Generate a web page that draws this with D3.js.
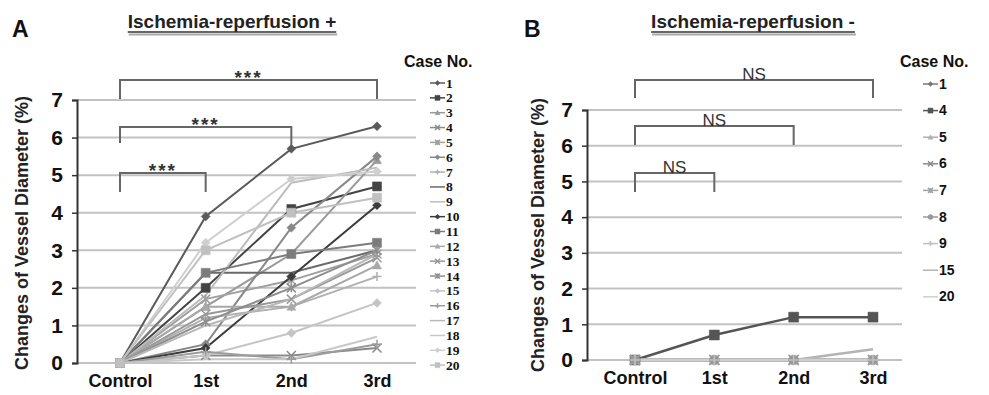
<!DOCTYPE html>
<html>
<head>
<meta charset="utf-8">
<script src="https://cdn.jsdelivr.net/npm/d3@7"></script>
<style>
  body { margin: 0; background: #fff; }
  svg { display: block; font-family: Arial, "Liberation Sans", sans-serif; }
</style>
</head>
<body>
<svg id="chart" width="989" height="395"></svg>
<script>
// Time points on the x axis
const timePoints = ["Control", "1st", "2nd", "3rd"];
const yTicks = [0, 1, 2, 3, 4, 5, 6, 7];

// Panel A: ischemia-reperfusion +, 20 cases
const casesA = ["1","2","3","4","5","6","7","8","9","10","11","12","13","14","15","16","17","18","19","20"];
const valuesA = [
  [0, 3.9, 5.7, 6.3],
  [0, 2.0, 4.1, 4.7],
  [0, 1.5, 2.9, 5.4],
  [0, 0.2, 0.2, 0.4],
  [0, 1.7, 2.2, 2.9],
  [0, 0.5, 3.6, 5.5],
  [0, 1.2, 1.5, 2.3],
  [0, 2.4, 2.4, 3.0],
  [0, 1.8, 4.8, 5.2],
  [0, 0.4, 2.3, 4.2],
  [0, 2.4, 2.9, 3.2],
  [0, 1.5, 1.5, 2.6],
  [0, 1.3, 1.7, 2.8],
  [0, 1.1, 2.0, 3.0],
  [0, 0.2, 0.8, 1.6],
  [0, 0.3, 0.1, 0.5],
  [0, 1.0, 1.7, 2.9],
  [0, 0.1, 0.1, 0.7],
  [0, 3.2, 4.9, 5.1],
  [0, 3.0, 4.0, 4.4]
];

// Panel B: ischemia-reperfusion -, 9 cases
const casesB = ["1","4","5","6","7","8","9","15","20"];
const valuesB = [
  [0, 0, 0, 0],
  [0, 0.7, 1.2, 1.2],
  [0, 0, 0, 0],
  [0, 0, 0, 0],
  [0, 0, 0, 0],
  [0, 0, 0, 0],
  [0, 0, 0, 0],
  [0, 0, 0, 0.3],
  [0, 0, 0, 0]
];

// Significance brackets: [from, to, label]
const bracketsA = [["Control", "3rd", "***"], ["Control", "2nd", "***"], ["Control", "1st", "***"]];
const bracketsB = [["Control", "3rd", "NS"], ["Control", "2nd", "NS"], ["Control", "1st", "NS"]];

// grey shades and Excel-like markers per case
const greysA = ["#5a5a5a", "#444", "#9a9a9a", "#8a8a8a", "#a0a0a0", "#888", "#b0b0b0", "#6a6a6a", "#bcbcbc",
                "#3c3c3c", "#7c7c7c", "#a8a8a8", "#989898", "#8e8e8e", "#c4c4c4", "#9c9c9c", "#b8b8b8", "#c8c8c8", "#cfcfcf", "#c0c0c0"];
const markersA = ["diamond","square","triangle","x","star","diamond","plus","none","none","diamond",
                  "square","triangle","x","star","diamond","plus","none","none","diamond","square"];
const greysB = ["#7a7a7a", "#555", "#b0b0b0", "#8a8a8a", "#a4a4a4", "#999", "#c0c0c0", "#b4b4b4", "#cfcfcf"];
const markersB = ["diamond", "square", "triangle", "x", "star", "circle", "plus", "none", "none"];

const svg = d3.select("#chart");

function markerPath(type, size) {
  const s = size;
  switch (type) {
    case "diamond": return `M0,${-s}L${s},0L0,${s}L${-s},0Z`;
    case "square": return `M${-s},${-s}H${s}V${s}H${-s}Z`;
    case "triangle": return `M0,${-s}L${s},${s * 0.8}H${-s}Z`;
    case "x": return `M${-s},${-s}L${s},${s}M${s},${-s}L${-s},${s}`;
    case "star": return `M${-s},${-s}L${s},${s}M${s},${-s}L${-s},${s}M0,${-s}V${s}`;
    case "plus": return `M${-s},0H${s}M0,${-s}V${s}`;
    case "circle": return d3.symbol(d3.symbolCircle, Math.PI * s * s)();
    default: return "";
  }
}

function drawMarker(g, type, color, size) {
  const filled = ["diamond", "square", "triangle", "circle"].includes(type);
  g.append("path")
    .attr("d", markerPath(type, size))
    .attr("fill", filled ? color : "none")
    .attr("stroke", color)
    .attr("stroke-width", filled ? 0.5 : 1.5);
}

function drawPanel(cfg) {
  const x = d3.scalePoint().domain(timePoints).range(cfg.xRange);
  const y = d3.scaleLinear().domain([0, 7]).range(cfg.yRange);
  const g = svg.append("g");

  // Gridlines
  g.selectAll(".grid").data(yTicks).enter().append("line")
    .attr("x1", cfg.axisX).attr("x2", cfg.gridEnd)
    .attr("y1", d => y(d)).attr("y2", d => y(d))
    .attr("stroke", "#c2c2c2").attr("stroke-width", 2);

  // Y axis
  const yAxis = g.append("g").attr("transform", `translate(${cfg.axisX},0)`)
    .call(d3.axisLeft(y).tickValues(yTicks).tickFormat(d3.format("d")).tickSize(5).tickPadding(9));
  yAxis.select(".domain").attr("stroke", "#333").attr("stroke-width", 2);
  yAxis.selectAll(".tick line").attr("stroke", "#333").attr("stroke-width", 1.5);
  yAxis.selectAll(".tick text").attr("font-size", 21).attr("font-weight", "bold")
    .attr("fill", "#111").attr("font-family", "Arial, 'Liberation Sans', sans-serif");

  // X labels
  const xAxis = g.append("g").attr("transform", `translate(0,${y(0)})`)
    .call(d3.axisBottom(x).tickSize(0).tickPadding(11));
  xAxis.select(".domain").remove();
  xAxis.selectAll(".tick text").attr("font-size", 18).attr("font-weight", "bold")
    .attr("fill", "#111").attr("font-family", "Arial, 'Liberation Sans', sans-serif");

  // Y label
  g.append("text")
    .attr("transform", `translate(${cfg.yLabelX},${cfg.yLabelY}) rotate(-90)`)
    .attr("text-anchor", "middle").attr("font-size", 18).attr("font-weight", "bold").attr("fill", "#222")
    .text("Changes of Vessel Diameter (%)");

  // Series lines
  const line = d3.line().x((d, i) => x(timePoints[i])).y(d => y(d));
  cfg.values.forEach((vals, k) => {
    g.append("path").datum(vals).attr("d", line)
      .attr("fill", "none").attr("stroke", cfg.greys[k]).attr("stroke-width", cfg.lineWidth);
  });
  cfg.values.forEach((vals, k) => {
    vals.forEach((v, i) => {
      const mg = g.append("g").attr("transform", `translate(${x(timePoints[i])},${y(v)})`);
      drawMarker(mg, cfg.markers[k], cfg.greys[k], cfg.markerSize);
    });
  });

  // Brackets
  cfg.brackets.forEach((b, i) => {
    const yb = cfg.bracketY[i];
    const x1 = x(b[0]), x2 = x(b[1]);
    g.append("path")
      .attr("d", `M${x1},${yb + cfg.bracketDrop[i][0]}V${yb}H${x2}V${yb + cfg.bracketDrop[i][1]}`)
      .attr("fill", "none").attr("stroke", "#666").attr("stroke-width", 2);
    g.append("text").attr("x", (x1 + x2) / 2).attr("y", yb + cfg.bracketTextDy)
      .attr("text-anchor", "middle").attr("font-size", cfg.bracketFont)
      .attr("font-weight", cfg.bracketWeight).attr("letter-spacing", cfg.bracketSpacing)
      .attr("fill", "#333").text(b[2]);
  });

  // Panel letter and title
  g.append("text").attr("x", cfg.letterX).attr("y", 37).attr("font-size", 23)
    .attr("font-weight", "bold").attr("fill", "#111").text(cfg.letter);
  const title = g.append("text").attr("x", cfg.titleX).attr("y", 28).attr("text-anchor", "middle")
    .attr("font-size", 19).attr("font-weight", "bold").attr("fill", "#222").text(cfg.title);
  const w = title.node().getComputedTextLength();
  g.append("line").attr("x1", cfg.titleX - w / 2).attr("x2", cfg.titleX + w / 2)
    .attr("y1", 32).attr("y2", 32).attr("stroke", "#333").attr("stroke-width", 1.5);
  g.append("line").attr("x1", cfg.titleX - w / 2 + 1).attr("x2", cfg.titleX + w / 2 + 1)
    .attr("y1", 34.5).attr("y2", 34.5).attr("stroke", "#aaa").attr("stroke-width", 2);

  // Legend
  const lg = g.append("g");
  lg.append("text").attr("x", cfg.legend.titleX).attr("y", cfg.legend.titleY)
    .attr("font-size", 16).attr("font-weight", "bold").attr("fill", "#111").text("Case No.");
  cfg.cases.forEach((c, k) => {
    const ly = cfg.legend.y0 + k * cfg.legend.step;
    lg.append("line").attr("x1", cfg.legend.x).attr("x2", cfg.legend.x + 15)
      .attr("y1", ly).attr("y2", ly).attr("stroke", cfg.greys[k]).attr("stroke-width", 1.5);
    const mg = lg.append("g").attr("transform", `translate(${cfg.legend.x + 7.5},${ly})`);
    drawMarker(mg, cfg.markers[k], cfg.greys[k], 2.5);
    lg.append("text").attr("x", cfg.legend.x + 16).attr("y", ly + 4.5)
      .attr("font-size", cfg.legend.font).attr("font-weight", "bold")
      .attr("font-family", cfg.legend.family).attr("fill", "#111").text(c);
  });
}

drawPanel({
  letter: "A", letterX: 12, title: "Ischemia-reperfusion +", titleX: 232,
  xRange: [120, 377], yRange: [363, 100], axisX: 77, gridEnd: 416, yLabelX: 28, yLabelY: 233,
  values: valuesA, greys: greysA, markers: markersA, cases: casesA,
  lineWidth: 2, markerSize: 4.5,
  brackets: bracketsA, bracketY: [80, 127, 173], bracketDrop: [[19, 19], [16, 18], [19, 19]],
  bracketFont: 19, bracketWeight: "bold", bracketSpacing: 2, bracketTextDy: 4,
  legend: { titleX: 404, titleY: 67, x: 430, y0: 83, step: 14.85, font: 13.5,
            family: "'Liberation Serif', 'Times New Roman', serif" }
});

drawPanel({
  letter: "B", letterX: 524, title: "Ischemia-reperfusion -", titleX: 753,
  xRange: [635, 873], yRange: [360, 110], axisX: 587, gridEnd: 902, yLabelX: 544, yLabelY: 235,
  values: valuesB, greys: greysB, markers: markersB, cases: casesB,
  lineWidth: 2.5, markerSize: 5,
  brackets: bracketsB, bracketY: [80, 126, 173], bracketDrop: [[18, 18], [19, 19], [19, 19]],
  bracketFont: 17, bracketWeight: "normal", bracketSpacing: 0, bracketTextDy: 0,
  legend: { titleX: 900, titleY: 67, x: 923, y0: 84, step: 26.6, font: 14,
            family: "Arial, 'Liberation Sans', sans-serif" }
});
</script>
</body>
</html>
